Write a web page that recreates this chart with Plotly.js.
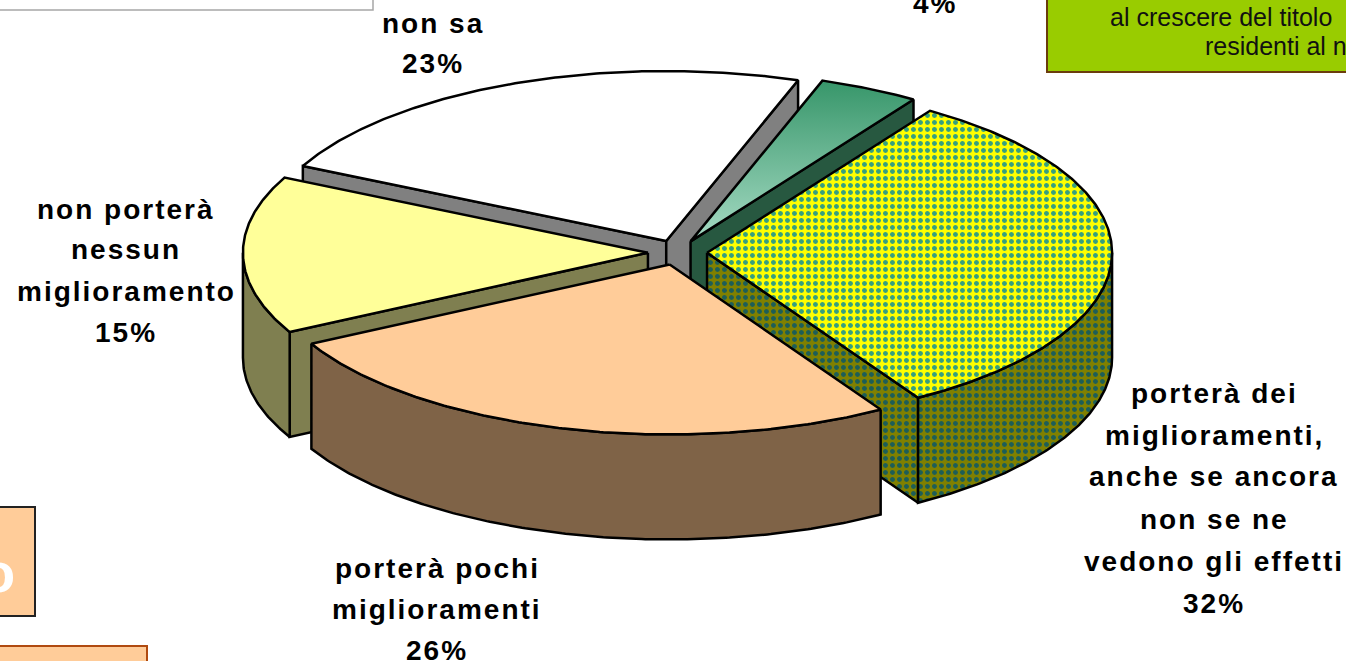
<!DOCTYPE html>
<html><head><meta charset="utf-8">
<script src="https://cdn.plot.ly/plotly-3.0.1.min.js"></script>
<style>
html,body{margin:0;padding:0;background:#fff;overflow:hidden;}
#chart{width:1346px;height:661px;}
</style></head><body><div id="chart"></div>
<script>
// ---------------- DATA ----------------
const categories = [
  "non sa",
  "",
  "porterà dei\nmiglioramenti,\nanche se ancora\nnon se ne\nvedono gli effetti",
  "porterà pochi\nmiglioramenti",
  "non porterà\nnessun\nmiglioramento"
];
const values = [23, 4, 32, 26, 15];
const boxTexts = ["al crescere del titolo", "residenti al nord"];
const cornerText = "o";

// ---------------- LAYOUT CONFIG ----------------
const W = 1346, H = 661;
const CX = 677.5, CY = 252.5, RX = 405, RY = 170;   // pixel placement of the pie
const DEPTH = 105 / RY;      // thickness in data units
const EXPLODE = 0.073;       // explosion in data units
const START = -63.8;         // first slice start angle (deg, clockwise from top)
const topColors  = ['#ffffff', null, '#ffff00', '#ffcc99', '#ffff99'];
const wallColors = ['#808080', '#275840', '#808000', '#7f6347', '#7f7f50'];
const labelPos = [ // x center, y of first line, line spacing (px)
  [433, 23, 40], [935, 4, 40], [1214, 393, 42], [437, 568, 41], [126, 209, 41]
];
const FONT = 'Liberation Sans, Arial, sans-serif';

// ---------------- GEOMETRY ----------------
const total = values.reduce((a, b) => a + b, 0);
let acc = START;
const slices = values.map((v, i) => {
  let a1 = ((acc % 360) + 360) % 360;
  const span = v / total * 360;
  acc += span;
  const a2 = a1 + span, mid = (a1 + a2) / 2;
  const mr = mid * Math.PI / 180;
  return {i, a1, a2, mid, ox: EXPLODE * Math.sin(mr), oy: EXPLODE * Math.cos(mr)};
});
function rimPt(s, a, dz) { const r = a * Math.PI / 180; return [s.ox + Math.sin(r), s.oy + Math.cos(r) - dz]; }
function arcPts(s, from, to, dz) {
  const out = []; const n = Math.max(2, Math.ceil(Math.abs(to - from) / 0.5));
  for (let k = 0; k <= n; k++) out.push(rimPt(s, from + (to - from) * k / n, dz));
  return out;
}
function mkTrace(points, style) {
  const t = {
    type: 'scatter', mode: 'lines', fill: 'toself',
    x: points.map(p => p[0]), y: points.map(p => p[1]),
    line: {color: '#000', width: 2.5}, hoverinfo: 'skip', showlegend: false
  };
  return Object.assign(t, style);
}
function patternStyle(bg, fg) {
  return {fillcolor: bg, fillpattern: {shape: '.', bgcolor: bg, fgcolor: fg, size: 7, solidity: 0.4}};
}
function topStyle(i) {
  if (i === 1) return {fillcolor: '#5aae85', fillgradient: {type: 'vertical', colorscale: [[0, '#a6dbc4'], [1, '#37966a']]}};
  if (i === 2) return patternStyle('#ffff00', '#36a07e');
  return {fillcolor: topColors[i]};
}
function wallStyle(i) {
  if (i === 2) return patternStyle('#808000', '#1d5e57');
  return {fillcolor: wallColors[i]};
}

const order = slices.slice().sort((a, b) => Math.cos(b.mid * Math.PI / 180) - Math.cos(a.mid * Math.PI / 180));
const traces = [];
order.forEach(s => {
  const apexT = [s.ox, s.oy], apexB = [s.ox, s.oy - DEPTH];
  const s1 = Math.sin(s.a1 * Math.PI / 180), s2 = Math.sin(s.a2 * Math.PI / 180);
  // radial cut faces
  if (s1 < 0) traces.push(mkTrace([apexT, rimPt(s, s.a1, 0), rimPt(s, s.a1, DEPTH), apexB, apexT], wallStyle(s.i)));
  if (s2 > 0) traces.push(mkTrace([apexT, rimPt(s, s.a2, 0), rimPt(s, s.a2, DEPTH), apexB, apexT], wallStyle(s.i)));
  // outer curved face (front half)
  const lo = Math.max(s.a1, 90), hi = Math.min(s.a2, 270);
  if (hi > lo) {
    const p = arcPts(s, lo, hi, 0).concat(arcPts(s, hi, lo, DEPTH));
    p.push(p[0]);
    traces.push(mkTrace(p, wallStyle(s.i)));
  }
  // top face
  const top = [apexT].concat(arcPts(s, s.a1, s.a2, 0)); top.push(apexT);
  traces.push(mkTrace(top, topStyle(s.i)));
});

// ---------------- LABELS ----------------
const px = x => x / W, py = y => 1 - y / H;
const annotations = [];
const spacedIdx = [];
slices.forEach(s => {
  const lines = categories[s.i] ? categories[s.i].split('\n') : [];
  lines.push(values[s.i] + '%');
  const [lx, ly, ls] = labelPos[s.i];
  lines.forEach((t, k) => {
    spacedIdx.push(annotations.length);
    annotations.push({xref: 'paper', yref: 'paper', x: px(lx), y: py(ly + k * ls),
      xanchor: 'center', yanchor: 'middle', showarrow: false, text: t,
      font: {family: FONT, size: 28, color: '#000', weight: 'bold'}});
  });
});
annotations.push({xref: 'paper', yref: 'paper', x: px(1108), y: py(17), xanchor: 'left', yanchor: 'middle',
  showarrow: false, text: boxTexts[0], font: {family: FONT, size: 25, color: '#111'}});
annotations.push({xref: 'paper', yref: 'paper', x: px(1203), y: py(46), xanchor: 'left', yanchor: 'middle',
  showarrow: false, text: boxTexts[1], font: {family: FONT, size: 25, color: '#111'}});
annotations.push({xref: 'paper', yref: 'paper', x: px(17), y: py(572), xanchor: 'right', yanchor: 'middle',
  showarrow: false, text: cornerText, font: {family: FONT, size: 56, color: '#ffffff', weight: 'bold'}});

const shapes = [
  {type: 'rect', xref: 'paper', yref: 'paper', x0: px(-10), x1: px(373), y0: py(-10), y1: py(10),
   line: {color: '#a6a6a6', width: 1.5}, fillcolor: '#ffffff'},
  {type: 'rect', xref: 'paper', yref: 'paper', x0: px(1047), x1: px(1360), y0: py(-10), y1: py(72),
   line: {color: '#6b3d0c', width: 2}, fillcolor: '#99cc00', layer: 'below'},
  {type: 'rect', xref: 'paper', yref: 'paper', x0: px(-10), x1: px(35), y0: py(507), y1: py(616),
   line: {color: '#222', width: 2}, fillcolor: '#ffcc99', layer: 'below'},
  {type: 'rect', xref: 'paper', yref: 'paper', x0: px(-10), x1: px(147), y0: py(646), y1: py(675),
   line: {color: '#b04a10', width: 2}, fillcolor: '#ffcc99', layer: 'below'}
];

const layout = {
  width: W, height: H, margin: {l: 0, r: 0, t: 0, b: 0},
  paper_bgcolor: '#fff', plot_bgcolor: 'rgba(0,0,0,0)', showlegend: false,
  xaxis: {range: [-CX / RX, (W - CX) / RX], visible: false, fixedrange: true},
  yaxis: {range: [-(H - CY) / RY, CY / RY], visible: false, fixedrange: true},
  annotations, shapes, hovermode: false
};
Plotly.newPlot('chart', traces, layout, {staticPlot: true, displayModeBar: false}).then(() => {
  spacedIdx.forEach(i => {
    const t = document.querySelector('g.annotation[data-index="' + i + '"] text');
    if (t) t.style.letterSpacing = '2px';
  });
});
</script></body></html>
